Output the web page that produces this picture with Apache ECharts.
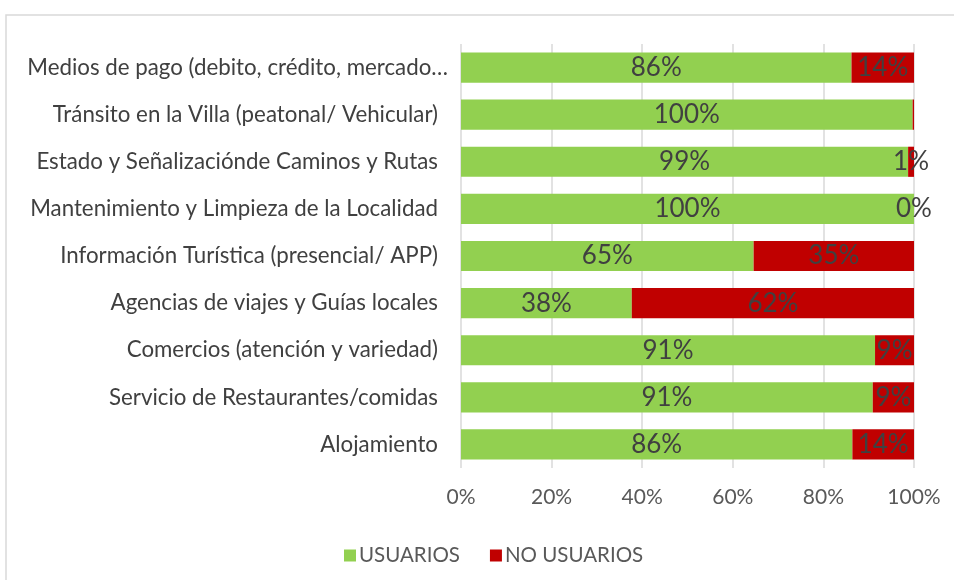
<!DOCTYPE html>
<html>
<head>
<meta charset="utf-8">
<script src="https://cdn.jsdelivr.net/npm/echarts@6/dist/echarts.min.js"></script>
<style>html,body{margin:0;padding:0;background:#fff}#c{width:954px;height:580px}</style>
</head>
<body>
<div id="c"></div>
<script>
var categories = [
  'Medios de pago (debito, crédito, mercado…',
  'Tránsito en la Villa (peatonal/ Vehicular)',
  'Estado y Señalizaciónde Caminos y Rutas',
  'Mantenimiento y Limpieza de la Localidad',
  'Información Turística (presencial/ APP)',
  'Agencias de viajes y Guías locales',
  'Comercios (atención y variedad)',
  'Servicio de Restaurantes/comidas',
  'Alojamiento'
];
var usuarios   = [86.2, 99.7, 98.7, 100, 64.6, 37.7, 91.4, 90.9, 86.4];
var noUsuarios = [13.8, 0.3, 1.3, 0, 35.4, 62.3, 8.6, 9.1, 13.6];
var hiddenLabels = [false, true, false, false, false, false, false, false, false];
var ticks = [0, 20, 40, 60, 80, 100];

var FONT = 'Lato';
var chart = echarts.init(document.getElementById('c'));
function fmt(p){ return Math.round(p.value) + '%'; }
chart.setOption({
  animation: false,
  backgroundColor: '#fff',
  graphic: [{
    type: 'rect', shape: {x: 6, y: 15, width: 960, height: 580},
    style: {fill: 'none', stroke: '#d9d9d9', lineWidth: 1.5}, silent: true, z: -10
  }],
  grid: {left: 461, right: 40, top: 44, bottom: 112, containLabel: false},
  legend: {
    top: 540, left: 339,
    itemWidth: 12, itemHeight: 12, itemGap: 30, icon: 'rect',
    textStyle: {fontFamily: FONT, fontSize: 20.5, color: '#595959', padding: [0,0,0,-2]},
    data: ['USUARIOS', 'NO USUARIOS']
  },
  xAxis: {
    type: 'value', min: ticks[0], max: ticks[ticks.length-1], interval: 20,
    axisLine: {show: false}, axisTick: {show: false},
    splitLine: {lineStyle: {color: '#d9d9d9', width: 1.5}},
    axisLabel: {formatter: '{value}%', fontFamily: FONT, fontSize: 21, color: '#595959', margin: 19}
  },
  yAxis: {
    type: 'category', inverse: true,
    data: categories.map(function(c){
      return /…$/.test(c) ? {value: c, textStyle: {padding: [0, -10, 0, 0]}} : c;
    }),
    axisLine: {show: false}, axisTick: {show: false},
    axisLabel: {fontFamily: FONT, fontSize: 22.3, color: '#404040', margin: 23}
  },
  series: [
    {
      name: 'USUARIOS', type: 'bar', stack: 'a', barCategoryGap: '36%',
      itemStyle: {color: '#92D050'},
      label: {show: true, position: 'inside', formatter: fmt, fontFamily: FONT, fontSize: 26, color: '#404040'},
      data: usuarios
    },
    {
      name: 'NO USUARIOS', type: 'bar', stack: 'a',
      itemStyle: {color: '#C00000'},
      label: {show: true, position: 'inside', formatter: fmt, fontFamily: FONT, fontSize: 26, color: '#404040'},
      data: noUsuarios.map(function(v, i){
        return hiddenLabels[i] ? {value: v, label: {show: false}} : v;
      })
    }
  ]
});
</script>
</body>
</html>
